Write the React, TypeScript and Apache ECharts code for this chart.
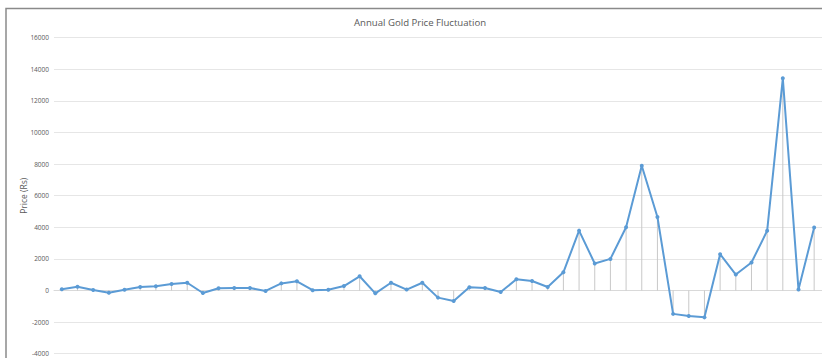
import React, { useEffect, useRef } from "react";
import * as echarts from "echarts";

// Year-on-year change in gold price, 1974–2022
const years: string[] = Array.from({ length: 49 }, (_, i) => String(1974 + i));

const priceChange: number[] = [
  80, 240, 30, -140, 50, 220, 265, 410, 490, -160,
  140, 160, 160, -30, 450, 580, 20, 50, 280, 900,
  -180, 490, 60, 490, -450, -660, 200, 160, -100, 710,
  600, 220, 1150, 3790, 1710, 2000, 4000, 7900, 4650, -1480,
  -1620, -1700, 2300, 1010, 1770, 3780, 13430, 60, 3990,
];

const chartTitle = "Annual Gold Price Fluctuation";
const yAxisTitle = "Price (Rs)";
const yMin = -4000;
const yMax = 16000;
const yStep = 2000;

const textColor = "#595959";
const font = "Open Sans, Lato, sans-serif";

export default function App() {
  const ref = useRef<HTMLDivElement>(null);

  useEffect(() => {
    if (!ref.current) return;
    const chart = echarts.init(ref.current, undefined, { renderer: "svg" });
    chart.setOption({
      animation: false,
      backgroundColor: "#ffffff",
      title: {
        text: chartTitle,
        left: 349,
        top: 12,
        textStyle: {
          fontSize: 9.6,
          fontWeight: "normal",
          color: textColor,
          fontFamily: font,
        },
      },
      graphic: [
        {
          type: "rect",
          shape: { x: 6, y: 8.5, width: 830, height: 360 },
          style: { fill: "none", stroke: "#8a8a8a", lineWidth: 1.5 },
          silent: true,
          z: 100,
        },
      ],
      grid: { left: 54, right: -3, top: 37.7, bottom: 4.3, containLabel: false },
      xAxis: {
        type: "category",
        data: years,
        boundaryGap: true,
        axisLine: { show: true, onZero: true, lineStyle: { color: "#d9d9d9", width: 1 } },
        axisTick: { show: false },
        axisLabel: { show: false },
        splitLine: { show: false },
      },
      yAxis: {
        type: "value",
        min: yMin,
        max: yMax,
        interval: yStep,
        name: yAxisTitle,
        nameLocation: "middle",
        nameRotate: 90,
        nameGap: 26,
        nameMoveOverlap: false,
        nameTextStyle: { fontSize: 8.5, color: textColor, fontFamily: font },
        axisLine: { show: false },
        axisTick: { show: false },
        axisLabel: {
          fontSize: 6.5,
          color: textColor,
          margin: 5,
          fontFamily: font,
          formatter: (v: number) => String(v),
        },
        splitLine: { lineStyle: { color: "#e6e6e6", width: 1 } },
      },
      series: [
        {
          // drop lines from each point to the zero axis
          type: "bar",
          data: priceChange,
          barWidth: 1,
          itemStyle: { color: "#c8c8c8" },
          silent: true,
          z: 1,
        },
        {
          type: "line",
          data: priceChange,
          symbol: "circle",
          symbolSize: 4,
          lineStyle: { color: "#5b9bd5", width: 2 },
          itemStyle: { color: "#5b9bd5" },
          z: 3,
        },
      ],
    });
    return () => chart.dispose();
  }, []);

  return (
    <div
      ref={ref}
      style={{ position: "absolute", left: 0, top: 0, width: 822, height: 358 }}
    />
  );
}
